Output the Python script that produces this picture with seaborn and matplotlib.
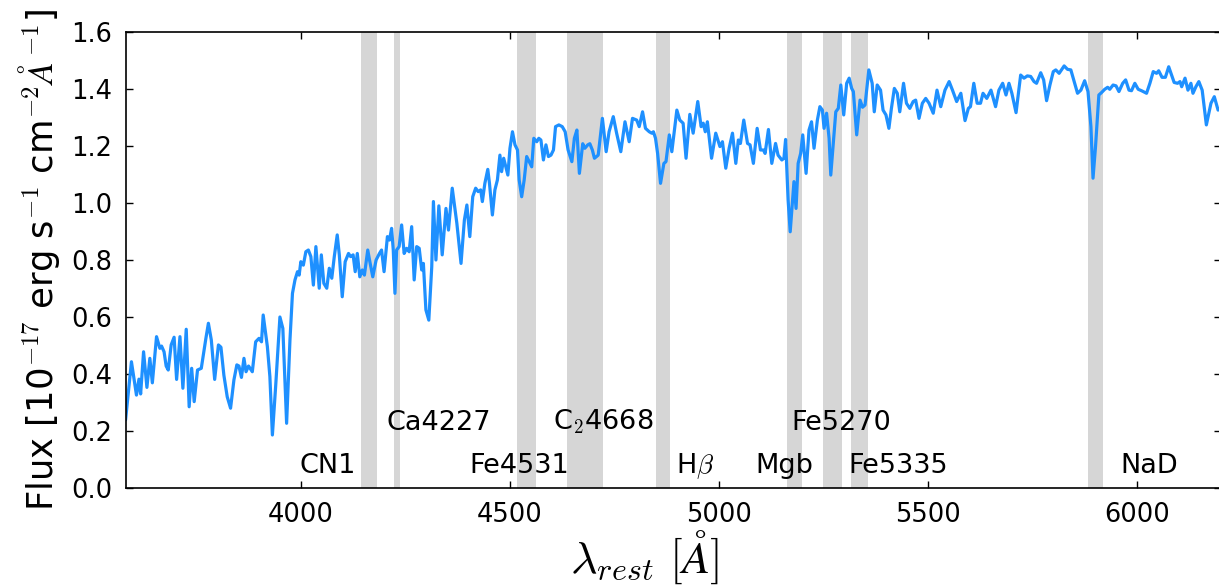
import numpy as np
import pandas as pd
import matplotlib
matplotlib.use("Agg")
import matplotlib.pyplot as plt
import seaborn as sns

# spectrum (rest wavelength in Angstrom, flux in 1e-17 erg/s/cm2/A)
wave = [
    3581, 3595, 3607, 3613, 3617, 3624, 3632, 3639, 3645, 3655,
    3663, 3667, 3673, 3678, 3683, 3690, 3697, 3703, 3711, 3718,
    3726, 3733, 3739, 3745, 3753, 3762, 3773, 3779, 3786, 3794,
    3803, 3809, 3816, 3824, 3832, 3840, 3847, 3852, 3858, 3864,
    3869, 3875, 3884, 3892, 3900, 3906, 3910, 3920, 3926, 3932,
    3940, 3950, 3957, 3966, 3974, 3980, 3986, 3992, 3996, 4000,
    4006, 4012, 4018, 4024, 4030, 4036, 4044, 4049, 4055, 4062,
    4068, 4074, 4080, 4087, 4092, 4099, 4106, 4114, 4119, 4125,
    4130, 4135, 4141, 4147, 4152, 4160, 4165, 4172, 4180, 4188,
    4193, 4199, 4207, 4212, 4217, 4221, 4225, 4229, 4235, 4241,
    4247, 4253, 4259, 4265, 4271, 4277, 4283, 4289, 4293, 4299,
    4306, 4313, 4317, 4323, 4330, 4338, 4347, 4353, 4362, 4373,
    4383, 4391, 4397, 4404, 4411, 4418, 4424, 4430, 4434, 4440,
    4447, 4451, 4458, 4464, 4470, 4476, 4480, 4485, 4488, 4495,
    4500, 4506, 4512, 4518, 4522, 4528, 4534, 4540, 4546, 4552,
    4557, 4564, 4569, 4574, 4580, 4586, 4592, 4598, 4604, 4609,
    4617, 4625, 4632, 4639, 4648, 4654, 4660, 4666, 4674, 4679,
    4686, 4691, 4697, 4702, 4711, 4721, 4730, 4737, 4747, 4755,
    4765, 4775, 4785, 4793, 4803, 4809, 4817, 4824, 4833, 4839,
    4843, 4848, 4853, 4860, 4868, 4873, 4881, 4887, 4899, 4906,
    4914, 4921, 4930, 4938, 4949, 4957, 4962, 4967, 4972, 4982,
    4992, 5002, 5008, 5016, 5024, 5032, 5040, 5046, 5051, 5059,
    5068, 5074, 5082, 5091, 5099, 5106, 5110, 5118, 5126, 5135,
    5141, 5150, 5155, 5159, 5165, 5170, 5174, 5179, 5184, 5189,
    5195, 5200, 5208, 5215, 5221, 5227, 5235, 5241, 5247, 5251,
    5257, 5263, 5267, 5273, 5279, 5285, 5291, 5298, 5305, 5311,
    5317, 5321, 5329, 5337, 5343, 5349, 5358, 5366, 5371, 5378,
    5386, 5392, 5399, 5406, 5412, 5419, 5426, 5432, 5441, 5448,
    5456, 5464, 5470, 5478, 5486, 5494, 5502, 5512, 5521, 5530,
    5540, 5550, 5558, 5568, 5578, 5588, 5596, 5601, 5609, 5617,
    5625, 5631, 5640, 5650, 5661, 5669, 5678, 5686, 5693, 5700,
    5710, 5721, 5729, 5737, 5745, 5753, 5759, 5769, 5776, 5783,
    5791, 5799, 5805, 5813, 5825, 5833, 5841, 5849, 5857, 5865,
    5874, 5882, 5889, 5894, 5900, 5908, 5914, 5922, 5929, 5934,
    5942, 5949, 5956, 5965, 5972, 5980, 5986, 5994, 6002, 6010,
    6022, 6030, 6038, 6046, 6051, 6059, 6067, 6075, 6082, 6088,
    6096, 6102, 6106, 6114, 6121, 6128, 6133, 6140, 6147, 6155,
    6165, 6176, 6184, 6193, 6205,
]
flux = [
    0.239, 0.443, 0.326, 0.382, 0.330, 0.478, 0.353, 0.455, 0.369, 0.531,
    0.490, 0.498, 0.478, 0.428, 0.414, 0.502, 0.529, 0.381, 0.531, 0.350,
    0.557, 0.285, 0.420, 0.303, 0.414, 0.420, 0.525, 0.578, 0.519, 0.381,
    0.502, 0.494, 0.396, 0.320, 0.280, 0.379, 0.432, 0.428, 0.388, 0.455,
    0.408, 0.428, 0.408, 0.513, 0.525, 0.513, 0.607, 0.496, 0.391, 0.186,
    0.361, 0.600, 0.560, 0.227, 0.519, 0.683, 0.730, 0.759, 0.747, 0.794,
    0.782, 0.829, 0.835, 0.812, 0.712, 0.847, 0.701, 0.818, 0.718, 0.701,
    0.771, 0.736, 0.812, 0.888, 0.818, 0.671, 0.794, 0.823, 0.812, 0.818,
    0.759, 0.823, 0.741, 0.765, 0.747, 0.835, 0.794, 0.741, 0.800, 0.823,
    0.835, 0.759, 0.882, 0.870, 0.911, 0.835, 0.683, 0.835, 0.847, 0.923,
    0.823, 0.841, 0.829, 0.917, 0.730, 0.847, 0.841, 0.765, 0.788, 0.625,
    0.589, 0.776, 1.005, 0.800, 0.990, 0.818, 0.981, 0.905, 1.052, 0.929,
    0.788, 0.940, 0.993, 0.882, 1.022, 1.052, 1.040, 1.046, 1.005, 1.069,
    1.118, 1.069, 0.958, 1.046, 1.081, 1.168, 1.110, 1.157, 1.139, 1.098,
    1.192, 1.250, 1.204, 1.186, 1.081, 1.022, 1.081, 1.163, 1.145, 1.127,
    1.227, 1.215, 1.227, 1.221, 1.151, 1.204, 1.163, 1.168, 1.186, 1.268,
    1.274, 1.268, 1.250, 1.186, 1.145, 1.227, 1.256, 1.104, 1.208, 1.192,
    1.204, 1.208, 1.186, 1.157, 1.168, 1.297, 1.180, 1.250, 1.303, 1.245,
    1.180, 1.285, 1.215, 1.297, 1.291, 1.268, 1.320, 1.262, 1.250, 1.245,
    1.250, 1.227, 1.174, 1.069, 1.139, 1.145, 1.239, 1.180, 1.326, 1.291,
    1.280, 1.157, 1.311, 1.245, 1.356, 1.268, 1.280, 1.250, 1.285, 1.157,
    1.245, 1.198, 1.215, 1.122, 1.192, 1.245, 1.139, 1.221, 1.209, 1.291,
    1.209, 1.204, 1.139, 1.262, 1.186, 1.186, 1.174, 1.258, 1.139, 1.209,
    1.168, 1.151, 1.157, 1.223, 1.011, 0.899, 0.975, 1.075, 0.981, 1.139,
    1.174, 1.239, 1.104, 1.256, 1.285, 1.192, 1.291, 1.338, 1.326, 1.262,
    1.315, 1.227, 1.098, 1.209, 1.320, 1.332, 1.414, 1.309, 1.420, 1.438,
    1.402, 1.391, 1.239, 1.361, 1.336, 1.344, 1.467, 1.420, 1.320, 1.414,
    1.396, 1.326, 1.309, 1.262, 1.332, 1.402, 1.385, 1.320, 1.420, 1.350,
    1.332, 1.356, 1.361, 1.297, 1.350, 1.367, 1.350, 1.315, 1.396, 1.338,
    1.396, 1.426, 1.396, 1.356, 1.385, 1.289, 1.332, 1.338, 1.420, 1.350,
    1.350, 1.385, 1.367, 1.396, 1.338, 1.396, 1.420, 1.379, 1.420, 1.385,
    1.317, 1.449, 1.438, 1.446, 1.444, 1.426, 1.420, 1.457, 1.432, 1.359,
    1.414, 1.461, 1.467, 1.455, 1.481, 1.469, 1.467, 1.426, 1.385, 1.396,
    1.429, 1.391, 1.268, 1.087, 1.198, 1.379, 1.387, 1.399, 1.406, 1.399,
    1.414, 1.411, 1.391, 1.420, 1.432, 1.396, 1.394, 1.420, 1.399, 1.394,
    1.385, 1.420, 1.461, 1.455, 1.464, 1.441, 1.441, 1.478, 1.449, 1.423,
    1.420, 1.426, 1.408, 1.438, 1.396, 1.420, 1.385, 1.408, 1.426, 1.396,
    1.274, 1.350, 1.373, 1.326, 1.340,
]

# Lick index bands and their labels
band_names = ["CN1", "Ca4227", "Fe4531", r"C$_2$4668", r"H$\beta$",
              "Mgb", "Fe5270", "Fe5335", "NaD"]
band_lo = [4143, 4223, 4517, 4636, 4849, 5162, 5248, 5315, 5881]
band_hi = [4181, 4237, 4562, 4722, 4882, 5198, 5293, 5356, 5917]
label_x = [3998, 4205, 4403, 4602, 4896, 5086, 5173, 5309, 5960]
label_y = [0.053, 0.204, 0.053, 0.204, 0.053, 0.053, 0.204, 0.053, 0.053]

spec = pd.DataFrame({"wave": wave, "flux": flux})

sns.set_style("ticks")
plt.rcParams["font.family"] = ["DejaVu Sans"]
plt.rcParams["mathtext.fontset"] = "cm"
plt.rcParams["text.color"] = "black"
plt.rcParams["axes.labelcolor"] = "black"

fig = plt.figure(figsize=(12.19, 5.85), dpi=100)
ax = fig.add_axes([126 / 1219, 97 / 585, 1095 / 1219, 456 / 585])

for lo, hi in zip(band_lo, band_hi):
    ax.axvspan(lo, hi, color="#d6d6d6", lw=0, zorder=0)

sns.lineplot(data=spec, x="wave", y="flux", sort=False, estimator=None,
             color="#1e90ff", lw=2.3, ax=ax, zorder=2)

for name, x, y in zip(band_names, label_x, label_y):
    ax.text(x, y, name, fontsize=19.5, ha="left", va="baseline",
            color="black", zorder=3)

ax.set_xlim(3582, 6200)
ax.set_ylim(0, 1.6)
ax.set_xticks([4000, 4500, 5000, 5500, 6000])
ax.set_yticks(np.arange(0, 1.61, 0.2))
ax.yaxis.set_major_formatter("{x:.1f}")
ax.tick_params(direction="in", top=True, right=True, labelsize=18.5,
               length=5, width=1, colors="black")
ax.tick_params(axis="x", pad=10)
ax.tick_params(axis="y", pad=10)
for s in ax.spines.values():
    s.set_linewidth(1.2)
    s.set_color("black")

ax.set_xlabel(r"$\lambda_{rest}\ [\AA]$", fontsize=33)
ax.set_ylabel(r"Flux [10$^{-17}$ erg s$^{-1}$ cm$^{-2}$$\AA^{-1}$]", fontsize=25.5)
ax.xaxis.set_label_coords(0.474, -0.088)
ax.yaxis.set_label_coords(-0.058, 0.5)

plt.savefig("out.png", dpi=100)
